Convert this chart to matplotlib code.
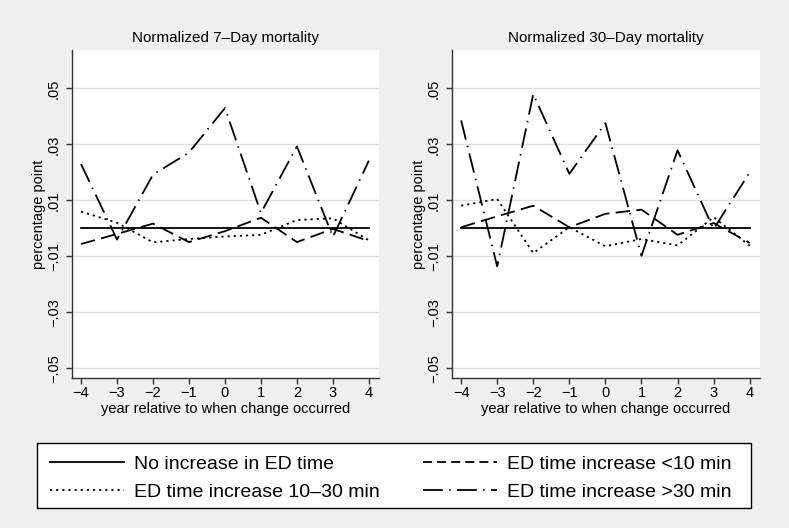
import matplotlib
matplotlib.use('Agg')
import matplotlib.pyplot as plt
from matplotlib.lines import Line2D
from matplotlib.patches import Rectangle

plt.rcParams['font.family'] = ['Liberation Sans', 'DejaVu Sans']

years = [-4, -3, -2, -1, 0, 1, 2, 3, 4]
yticks = [-0.05, -0.03, -0.01, 0.01, 0.03, 0.05]
ytick_labels = ['\u2212.05', '\u2212.03', '\u2212.01', '.01', '.03', '.05']
xtick_labels = ['\u22124', '\u22123', '\u22122', '\u22121', '0', '1', '2', '3', '4']

# 7-day mortality
d7_none = [0, 0, 0, 0, 0, 0, 0, 0, 0]
d7_lt10 = [-0.0056, -0.002, 0.0017, -0.0049, -0.001, 0.0038, -0.0049, -0.0002, -0.0045]
d7_10_30 = [0.006, 0.002, -0.005, -0.0038, -0.0029, -0.0023, 0.003, 0.0036, -0.0043]
d7_gt30 = [0.023, -0.004, 0.0192, 0.0271, 0.043, 0.0055, 0.0293, -0.003, 0.0242]

# 30-day mortality
d30_none = [0, 0, 0, 0, 0, 0, 0, 0, 0]
d30_lt10 = [0.0004, 0.0043, 0.0081, 0.0004, 0.0052, 0.0067, -0.0023, 0.0019, -0.0052]
d30_10_30 = [0.0081, 0.0105, -0.0088, 0.0004, -0.0064, -0.0038, -0.0061, 0.004, -0.0062]
d30_gt30 = [0.0386, -0.0136, 0.048, 0.0195, 0.0376, -0.0098, 0.0279, -0.0002, 0.02]

labels = ['No increase in ED time', 'ED time increase 10\u201330 min',
          'ED time increase <10 min', 'ED time increase >30 min']

bg = '#efefef'
lw = 1.3
styles = {
    'none': dict(linestyle='-'),
    '10_30': dict(linestyle=(0, (1.2, 2.2))),
    'lt10': dict(linestyle=(0, (8, 3.5))),
    'gt30': dict(linestyle=(0, (11, 3.5, 0.8, 3.5))),
}

fig = plt.figure(figsize=(7.89, 5.28), dpi=100, facecolor=bg)


def panel(rect, title, none, lt10, mid, gt30):
    ax = fig.add_axes(rect)
    ax.set_facecolor('white')
    ax.plot(years, none, color='black', lw=lw, **styles['none'])
    ax.plot(years, mid, color='black', lw=lw, **styles['10_30'])
    ax.plot(years, lt10, color='black', lw=lw, **styles['lt10'])
    ax.plot(years, gt30, color='black', lw=lw, **styles['gt30'])
    ax.set_xlim(-4.25, 4.28)
    ax.set_ylim(-0.0535, 0.0637)
    ax.set_yticks(yticks)
    ax.set_yticklabels(ytick_labels, rotation=90, va='center')
    ax.set_xticks(years)
    ax.set_xticklabels(xtick_labels)
    ax.grid(axis='y', color='#dedede', lw=1)
    ax.set_axisbelow(True)
    for s in ['top', 'right']:
        ax.spines[s].set_visible(False)
    for s in ['left', 'bottom']:
        ax.spines[s].set_color('#333333')
        ax.spines[s].set_linewidth(1)
    ax.tick_params(direction='out', length=4, width=1, color='#333333',
                   labelsize=10.5, pad=2)
    ax.tick_params(axis='y', pad=4)
    ax.set_title(title, fontsize=11, pad=6)
    ax.set_xlabel('year relative to when change occurred', fontsize=10.5, labelpad=1)
    ax.set_ylabel('percentage point', fontsize=10.5, labelpad=1)
    return ax


panel([0.0913, 0.284, 0.389, 0.621], 'Normalized 7\u2013Day mortality',
      d7_none, d7_lt10, d7_10_30, d7_gt30)
panel([0.573, 0.284, 0.390, 0.621], 'Normalized 30\u2013Day mortality',
      d30_none, d30_lt10, d30_10_30, d30_gt30)

# legend box drawn separately so the frame can be wider than its content
fig.patches.append(Rectangle((37 / 789, 20 / 528), 714 / 789, 65 / 528,
                             transform=fig.transFigure, facecolor='white',
                             edgecolor='black', lw=1, zorder=0))

handles = [Line2D([], [], color='black', lw=lw, linestyle='-'),
           Line2D([], [], color='black', lw=lw, linestyle=(0, (1.2, 2.2))),
           Line2D([], [], color='black', lw=lw, linestyle=(0, (5, 2.8))),
           Line2D([], [], color='black', lw=lw, linestyle=(0, (11, 3.5, 0.8, 3.5)))]
leg = fig.legend(handles, labels, ncol=2, loc='upper left',
                 bbox_to_anchor=(37 / 789, (528 - 443) / 528),
                 fontsize=14, frameon=False, handlelength=3.8,
                 handletextpad=0.55, borderpad=0.65, labelspacing=0.5,
                 columnspacing=2.2, borderaxespad=0)

fig.savefig('out.png', dpi=100, facecolor=bg)
